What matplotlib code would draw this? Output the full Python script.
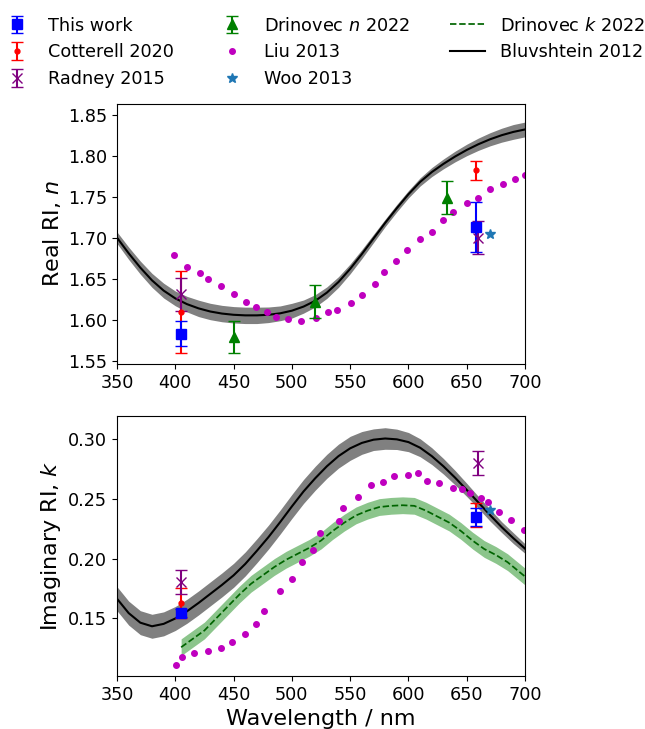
import numpy as np
import matplotlib
matplotlib.use("Agg")
import matplotlib.pyplot as plt
from matplotlib.ticker import FormatStrFormatter

# --- measured points (wavelength in nm) ---
this_wl = [405, 658]
this_n = [1.583, 1.713]
this_n_err = [0.015, 0.030]
this_k = [0.1545, 0.2347]
this_k_err = [0.003, 0.0077]

cott_wl = [405, 658]
cott_n = [1.610, 1.782]
cott_n_err = [0.050, 0.012]
cott_k = [0.1633, 0.236]
cott_k_err = [0.0125, 0.010]

radney_wl = [405, 660]
radney_n = [1.631, 1.700]
radney_n_err = [0.020, 0.020]
radney_k = [0.1805, 0.280]
radney_k_err = [0.010, 0.010]

drin_n_wl = [450, 520, 633]
drin_n = [1.579, 1.622, 1.749]
drin_n_err = [0.020, 0.020, 0.020]

woo_wl = [670]
woo_n = [1.705]
woo_k = [0.2408]

liu_n_wl = [399, 410, 421, 428, 439, 450, 461, 469, 479, 486, 497, 508, 521, 531,
            539, 551, 560, 571, 579, 589, 599, 610, 620, 630, 638, 650, 660, 670,
            681, 691, 700]
liu_n = [1.679, 1.664, 1.657, 1.650, 1.641, 1.631, 1.622, 1.615, 1.609, 1.603,
         1.601, 1.599, 1.602, 1.609, 1.612, 1.620, 1.630, 1.644, 1.658, 1.672,
         1.685, 1.699, 1.707, 1.721, 1.731, 1.742, 1.748, 1.759, 1.765, 1.771, 1.777]

liu_k_wl = [401, 406, 416, 428, 439, 449, 460, 469, 476, 490, 500, 509, 518, 524,
            540, 544, 557, 568, 578, 588, 600, 608, 616, 626, 638, 646, 653, 662,
            668, 678, 688, 699]
liu_k = [0.111, 0.118, 0.121, 0.123, 0.125, 0.130, 0.137, 0.145, 0.156, 0.173,
         0.183, 0.197, 0.2075, 0.221, 0.231, 0.242, 0.251, 0.261, 0.264, 0.269,
         0.270, 0.271, 0.265, 0.263, 0.259, 0.258, 0.255, 0.2505, 0.247, 0.239,
         0.232, 0.224]

# --- continuous retrievals ---
bluv_wl = np.arange(350, 701, 10)
bluv_n = [1.700, 1.681, 1.6635, 1.648, 1.6355, 1.626, 1.619, 1.6138, 1.610, 1.6075,
          1.606, 1.6053, 1.6053, 1.606, 1.6078, 1.611, 1.616, 1.623, 1.633, 1.646,
          1.662, 1.680, 1.699, 1.718, 1.736, 1.753, 1.768, 1.780, 1.790, 1.799,
          1.807, 1.814, 1.820, 1.825, 1.829, 1.832]
bluv_n_err = [0.007, 0.0075, 0.008, 0.0085, 0.009, 0.009, 0.0095, 0.010, 0.010, 0.010,
              0.010, 0.010, 0.010, 0.0095, 0.009, 0.009, 0.008, 0.0075, 0.007, 0.0065,
              0.006, 0.0055, 0.005, 0.0045, 0.0045, 0.0045, 0.005, 0.0055, 0.006, 0.0065,
              0.007, 0.0075, 0.008, 0.0085, 0.009, 0.009]
bluv_k = [0.1665, 0.1545, 0.1465, 0.1435, 0.1455, 0.150, 0.156, 0.163, 0.1705, 0.178,
          0.186, 0.1955, 0.2065, 0.218, 0.2305, 0.2435, 0.256, 0.267, 0.277, 0.2855,
          0.292, 0.2965, 0.2992, 0.3002, 0.2995, 0.2972, 0.2925, 0.2855, 0.277, 0.2675,
          0.2573, 0.2468, 0.2363, 0.2262, 0.217, 0.2083]
bluv_k_err = [0.010, 0.010, 0.010, 0.010, 0.010, 0.010, 0.010, 0.010, 0.010, 0.010,
              0.010, 0.010, 0.010, 0.010, 0.010, 0.010, 0.010, 0.010, 0.010, 0.010,
              0.010, 0.0095, 0.009, 0.009, 0.0085, 0.008, 0.0075, 0.007, 0.0065, 0.006,
              0.0055, 0.005, 0.005, 0.0045, 0.0045, 0.004]

drin_k_wl = [405, 415, 425, 435, 445, 455, 465, 475, 485, 495, 505, 515, 525, 535,
             545, 555, 565, 575, 585, 595, 605, 615, 625, 635, 645, 655, 665, 675,
             685, 695, 700]
drin_k = [0.126, 0.133, 0.140, 0.150, 0.160, 0.170, 0.179, 0.186, 0.193, 0.199,
          0.204, 0.209, 0.215, 0.223, 0.230, 0.236, 0.240, 0.243, 0.244, 0.2445,
          0.244, 0.240, 0.235, 0.230, 0.223, 0.215, 0.208, 0.203, 0.197, 0.189, 0.185]
drin_k_err = 0.007

plt.rcParams['font.size'] = 12.7

fig = plt.figure(figsize=(6.45, 7.29), dpi=100)
ax1 = fig.add_axes([0.1814, 0.5007, 0.6326, 0.3566])
ax2 = fig.add_axes([0.1814, 0.0727, 0.6326, 0.3567])

eb = dict(linestyle='none', capsize=4, elinewidth=1.5)

# real part
bn = np.array(bluv_n)
bne = np.array(bluv_n_err)
ax1.fill_between(bluv_wl, bn - bne, bn + bne, color='grey', lw=0)
ax1.plot(bluv_wl, bn, color='k', lw=1.5)
ax1.plot(liu_n_wl, liu_n, 'o', color='m', ms=4, ls='none')
h_drinn = ax1.errorbar(drin_n_wl, drin_n, yerr=drin_n_err, fmt='^', color='green', ms=7, **eb)
ax1.errorbar(cott_wl, cott_n, yerr=cott_n_err, fmt='.', color='red', ms=7, **eb)
ax1.errorbar(radney_wl, radney_n, yerr=radney_n_err, fmt='x', color='purple', ms=7, **eb)
ax1.errorbar(this_wl, this_n, yerr=this_n_err, fmt='s', color='blue', ms=7, **eb)
ax1.plot(woo_wl, woo_n, '*', color='C0', ms=7, ls='none')
ax1.set_xlim(350, 700)
ax1.set_ylim(1.546, 1.863)
ax1.set_yticks(np.arange(1.55, 1.851, 0.05))
ax1.yaxis.set_major_formatter(FormatStrFormatter('%.2f'))
ax1.set_ylabel('Real RI, $n$', fontsize=16)

# imaginary part
bk = np.array(bluv_k)
bke = np.array(bluv_k_err)
dk = np.array(drin_k)
ax2.fill_between(bluv_wl, bk - bke, bk + bke, color='grey', lw=0)
ax2.fill_between(drin_k_wl, dk - drin_k_err, dk + drin_k_err, color='green', alpha=0.45, lw=0)
h_bluv, = ax2.plot(bluv_wl, bk, color='k', lw=1.5)
h_drink, = ax2.plot(drin_k_wl, dk, '--', color='darkgreen', lw=1.25)
h_liu, = ax2.plot(liu_k_wl, liu_k, 'o', color='m', ms=4, ls='none')
h_cott = ax2.errorbar(cott_wl, cott_k, yerr=cott_k_err, fmt='.', color='red', ms=7, **eb)
h_rad = ax2.errorbar(radney_wl, radney_k, yerr=radney_k_err, fmt='x', color='purple', ms=7, **eb)
h_this = ax2.errorbar(this_wl, this_k, yerr=this_k_err, fmt='s', color='blue', ms=7, **eb)
h_woo, = ax2.plot(woo_wl, woo_k, '*', color='C0', ms=7, ls='none')
ax2.set_xlim(350, 700)
ax2.set_ylim(0.102, 0.319)
ax2.set_yticks(np.arange(0.15, 0.301, 0.05))
ax2.yaxis.set_major_formatter(FormatStrFormatter('%.2f'))
ax2.set_ylabel('Imaginary RI, $k$', fontsize=16)
ax2.set_xlabel('Wavelength / nm', fontsize=16)

handles = [h_this, h_cott, h_rad, h_drinn, h_liu, h_woo, h_drink, h_bluv]
labels = ['This work', 'Cotterell 2020', 'Radney 2015', 'Drinovec $n$ 2022',
          'Liu 2013', 'Woo 2013', 'Drinovec $k$ 2022', 'Bluvshtein 2012']
fig.legend(handles, labels, ncol=3, loc='upper left', bbox_to_anchor=(-0.0124, 0.987),
           borderaxespad=0, frameon=False, fontsize=12.7, columnspacing=2.28)

fig.savefig('out.png', dpi=100)
